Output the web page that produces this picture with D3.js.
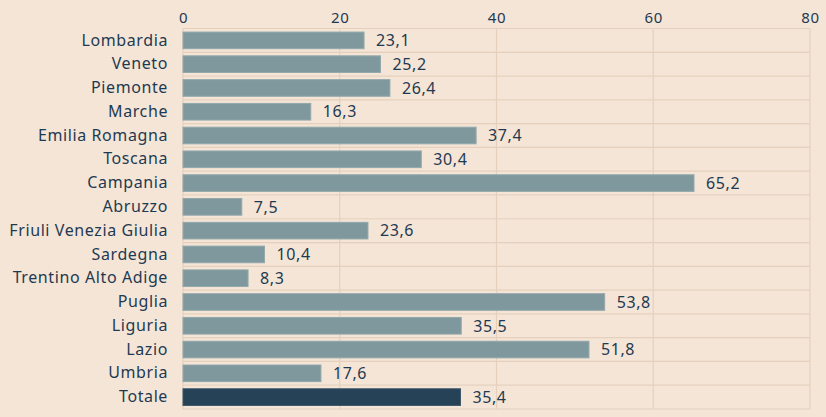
<!DOCTYPE html>
<html><head><meta charset="utf-8">
<script src="https://cdn.jsdelivr.net/npm/d3@7"></script>
<style>
html,body{margin:0;padding:0;background:#f5e5d6;}
svg{display:block;}
text{font-family:"Noto Sans",sans-serif;fill:#1e3a52;}
</style></head><body>
<svg id="c" width="826" height="417"></svg>
<script>
const categories = ["Lombardia","Veneto","Piemonte","Marche","Emilia Romagna","Toscana","Campania","Abruzzo","Friuli Venezia Giulia","Sardegna","Trentino Alto Adige","Puglia","Liguria","Lazio","Umbria","Totale"];
const values = [23.1,25.2,26.4,16.3,37.4,30.4,65.2,7.5,23.6,10.4,8.3,53.8,35.5,51.8,17.6,35.4];
const ticks = [0,20,40,60,80];

const svg = d3.select("#c");
const x = d3.scaleLinear().domain([0,80]).range([183,810]);
const y = d3.scaleBand().domain(categories).range([28.5,409]).paddingInner(0.3).paddingOuter(0.15);
const step = y.step();
const grid = "#e4d0bd";

svg.append("g").selectAll("line").data(ticks).join("line")
  .attr("x1",d=>x(d)).attr("x2",d=>x(d)).attr("y1",28.5).attr("y2",409)
  .attr("stroke",grid).attr("stroke-width",1.2);
const bounds = d3.range(categories.length+1).map(i=>28.5+i*step);
svg.append("g").selectAll("line").data(bounds).join("line")
  .attr("x1",x(0)).attr("x2",x(80)).attr("y1",d=>d).attr("y2",d=>d)
  .attr("stroke",grid).attr("stroke-width",1.2);

const ax = d3.axisTop(x).tickValues(ticks).tickSize(0).tickPadding(0);
const axg = svg.append("g").attr("transform","translate(0,23)").call(ax);
axg.select(".domain").remove();
axg.selectAll("text").style("font-family","'Noto Sans',sans-serif").style("font-size","15px")
  .style("letter-spacing","0.6px").attr("fill","#1e3a52");

const ay = d3.axisLeft(y).tickSize(0).tickPadding(0);
const ayg = svg.append("g").attr("transform","translate(168,0)").call(ay);
ayg.select(".domain").remove();
ayg.selectAll("text").style("font-family","'Noto Sans',sans-serif").style("font-size","16px")
  .style("letter-spacing","0.6px").attr("fill","#1e3a52");

svg.append("g").selectAll("rect").data(categories).join("rect")
  .attr("x",x(0)).attr("y",d=>y(d))
  .attr("width",(d,i)=>x(values[i])-x(0)).attr("height",y.bandwidth())
  .attr("fill",d=>d==="Totale"?"#254257":"#7f989d")
  .attr("stroke",d=>d==="Totale"?"#3a5567":"#93a9ac").attr("stroke-width",1);

const fmt = v=>v.toFixed(1).replace(".",",");
svg.append("g").selectAll("text").data(categories).join("text")
  .attr("x",(d,i)=>x(values[i])+12).attr("y",d=>y(d)+y.bandwidth()/2)
  .attr("dy","0.36em").style("font-size","16px").style("letter-spacing","0.6px")
  .text((d,i)=>fmt(values[i]));
</script></body></html>
